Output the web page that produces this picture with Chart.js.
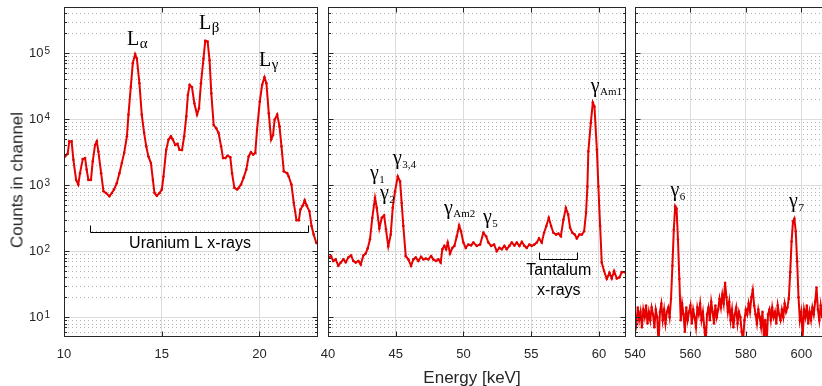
<!DOCTYPE html>
<html><head><meta charset="utf-8">
<script src="https://cdn.jsdelivr.net/npm/chart.js@4/dist/chart.umd.min.js"></script>
<style>
html,body{margin:0;padding:0;overflow:hidden;background:#fff;width:822px;height:386px;}
#wrap{position:relative;width:822px;height:386px;overflow:hidden;}
canvas{position:absolute;top:0;}
.lab{position:absolute;font-family:"Liberation Sans",Arial,Helvetica,sans-serif;font-size:17px;line-height:17px;height:17px;color:#262626;white-space:nowrap;}
#xt{left:472px;top:369px;transform:translateX(-50%);}
#yt{left:16.8px;top:180px;transform:translate(-50%,-50%) rotate(-90deg);}
</style></head>
<body><div id="wrap">
<canvas id="c1" width="322" height="386" style="left:0px"></canvas>
<canvas id="c2" width="312" height="386" style="left:318px"></canvas>
<canvas id="c3" width="208" height="386" style="left:625px"></canvas>
<div class="lab" id="xt">Energy [keV]</div>
<div class="lab" id="yt">Counts in channel</div>
</div>
<script>
// ---------- data ----------
const energies1 = [10.05,10.19,10.27,10.39,10.48,10.62,10.73,10.82,10.96,11.08,11.16,11.25,11.38,11.47,11.59,11.68,11.76,11.90,12.02,12.15,12.32,12.45,12.56,12.70,12.84,12.96,13.08,13.22,13.30,13.42,13.52,13.64,13.73,13.86,13.98,14.10,14.21,14.32,14.45,14.55,14.63,14.75,14.89,15.01,15.09,15.23,15.35,15.47,15.57,15.69,15.81,15.91,16.04,16.15,16.26,16.34,16.43,16.55,16.67,16.81,16.91,17.01,17.14,17.23,17.35,17.45,17.54,17.66,17.79,17.91,18.04,18.14,18.26,18.37,18.51,18.60,18.72,18.86,18.94,19.06,19.19,19.33,19.45,19.57,19.68,19.79,19.88,20.02,20.14,20.26,20.36,20.48,20.60,20.70,20.78,20.91,21.03,21.13,21.25,21.42,21.50,21.64,21.76,21.90,22.02,22.10,22.22,22.32,22.42,22.56,22.67,22.78,22.91,23.01];
const counts1 = [2720,2990,4600,4600,2430,1200,1020,1520,2480,2570,1720,1200,1200,2290,4060,4600,3230,1520,807,760,680,760,860,1070,1520,2160,3080,5500,11700,31000,70000,96600,83000,35000,11700,6200,3860,2720,2160,1200,760,690,760,860,1350,3430,4900,5500,4900,4060,4230,3430,3400,5500,11000,23200,33000,30500,17400,11700,14600,35000,83000,154000,150000,78000,24600,8150,7250,6200,3860,2570,2570,2790,2650,1520,910,860,910,1020,1290,1720,2720,3150,2900,3080,6900,18400,33000,43000,35000,12300,4900,5750,9800,11700,7760,3860,1620,1520,1350,1020,540,293,293,427,490,590,490,403,240,178,134,126];

const energies2 = [40.02,40.22,40.39,40.57,40.76,40.94,41.13,41.31,41.50,41.70,41.87,42.05,42.24,42.42,42.61,42.78,42.93,43.10,43.27,43.47,43.60,43.79,43.97,44.14,44.28,44.45,44.63,44.78,44.95,45.15,45.32,45.44,45.56,45.74,45.93,46.13,46.30,46.48,46.67,46.87,47.04,47.22,47.41,47.61,47.78,47.98,48.15,48.32,48.44,48.59,48.72,48.84,49.01,49.18,49.33,49.51,49.68,49.82,49.99,50.17,50.36,50.56,50.73,50.98,51.23,51.47,51.67,51.84,52.04,52.26,52.46,52.65,52.83,53.02,53.20,53.39,53.57,53.76,53.94,54.13,54.31,54.50,54.67,54.87,55.04,55.24,55.41,55.58,55.78,55.95,56.12,56.30,56.47,56.64,56.84,57.01,57.19,57.38,57.56,57.73,57.87,58.04,58.22,58.37,58.56,58.74,58.91,59.05,59.15,59.22,59.40,59.55,59.67,59.85,59.96,60.09,60.21,60.38,60.58,60.78,60.95,61.12,61.32,61.51,61.69,61.93];
const counts2 = [80,84,71,75,60,67,75,68,80,86,71,67,71,63,86,92,110,151,320,645,455,220,320,347,214,118,178,455,810,1350,1140,537,240,84,75,60,75,80,71,82,75,77,75,84,75,71,75,67,107,120,107,135,92,112,120,168,245,200,135,112,126,122,135,120,126,190,168,135,120,126,100,112,107,120,107,120,135,122,135,120,138,120,112,126,120,126,135,156,135,190,240,320,240,190,178,184,168,300,452,360,226,190,178,156,178,178,200,380,955,3230,8700,17800,15500,3430,955,240,67,50,38,47,38.5,50,38.5,40,48,48];

const energies3 = [540.0,540.5,541.0,541.5,542.0,542.5,543.0,543.5,544.0,544.5,545.0,545.5,546.0,546.5,547.0,547.5,548.0,548.5,549.0,549.5,550.0,550.5,551.0,551.5,552.0,552.5,553.0,553.5,554.0,554.5,555.0,555.5,556.0,556.5,557.0,557.5,558.0,558.5,559.0,559.5,560.0,560.5,561.0,561.5,562.0,562.5,563.0,563.5,564.0,564.5,565.0,565.5,566.0,566.5,567.0,567.5,568.0,568.5,569.0,569.5,570.0,570.5,571.0,571.5,572.0,572.5,573.0,573.5,574.0,574.5,575.0,575.5,576.0,576.5,577.0,577.5,578.0,578.5,579.0,579.5,580.0,580.5,581.0,581.5,582.0,582.5,583.0,583.5,584.0,584.5,585.0,585.5,586.0,586.5,587.0,587.5,588.0,588.5,589.0,589.5,590.0,590.5,591.0,591.5,592.0,592.5,593.0,593.5,594.0,594.5,595.0,595.5,596.0,596.5,597.0,597.5,598.0,598.5,599.0,599.5,600.0,600.5,601.0,601.5,602.0,602.5,603.0,603.5,604.0,604.5,605.0,605.5,606.0,606.5,607.0,607.5];
const counts3 = [11,8,14,9,12,7,13,10,15,8,12,9,14,11,7,13,10,4,12,16,9,13,8,12,14,10,19,60,210,480,440,150,38,9,16,11,6,14,9,12,15,8,13,10,7,14,11,16,9,12,7,4,11,14,9,17,12,8,15,10,13,19,14,22,16,33,20,12,17,9,13,7,11,14,8,12,10,6,4.5,9,13,11,16,12,20,26,15,11,8,13,10,7,12,5,9,4,11,13,9,14,10,12,8,15,11,9,13,10,16,12,14,19,48,140,280,310,200,70,20,9,12,5,13,10,15,8,12,9,14,11,17,28,13,9,15,10];

const xTicks1 = [10, 15, 20];
const xTicks2 = [40, 45, 50, 55, 60];
const xTicks3 = [540, 560, 580, 600];
const yTickValues = [10, 100, 1000, 10000, 100000];
const yTickBase = ['10', '10', '10', '10', '10'];
const yTickExps = ['1', '2', '3', '4', '5'];

// ---------- annotations (data coordinates) ----------
const ANNOTS = {
  c1: [
    {type:'label', x:13.22, y:1.33e5, main:'L', sub:'\u03B1', subSize:15, subDy:3},
    {type:'label', x:16.91, y:2.32e5, main:'L', sub:'\u03B2', subSize:15, subDy:3},
    {type:'label', x:19.98, y:6.46e4, main:'L', sub:'\u03B3', subSize:15, subDy:3},
    {type:'bracket', x1:11.33, x2:22.51, y:195},
    {type:'text', x:16.45, y:110, text:'Uranium L x-rays'}
  ],
  c2: [
    {type:'label', x:43.10, y:1225, main:'\u03B3', sub:'1', subSize:11, subDy:4},
    {type:'label', x:43.84, y:617, main:'\u03B3', sub:'2', subSize:11, subDy:4},
    {type:'label', x:44.80, y:2090, main:'\u03B3', sub:'3,4', subSize:11, subDy:4},
    {type:'label', x:48.56, y:366, main:'\u03B3', sub:'Am2', subSize:11, subDy:3.5},
    {type:'label', x:51.44, y:270, main:'\u03B3', sub:'5', subSize:11, subDy:4},
    {type:'label', x:59.39, y:26060, main:'\u03B3', sub:'Am1', subSize:11, subDy:3.5},
    {type:'bracket', x1:55.60, x2:58.41, y:76.7},
    {type:'text', x:57.04, y:43.5, text:'Tantalum'},
    {type:'text', x:57.04, y:21.6, text:'x-rays'}
  ],
  c3: [
    {type:'label', x:552.8, y:684, main:'\u03B3', sub:'6', subSize:11, subDy:4},
    {type:'label', x:595.6, y:461, main:'\u03B3', sub:'7', subSize:11, subDy:4}
  ]
};

const RED = '#e60000';
const AX = '#262626';
const GRID = '#dcdcdc';
const SANS = '"Liberation Sans", Arial, Helvetica, sans-serif';
const SERIF = '"Liberation Serif", "Times New Roman", serif';

const framePlugin = {
  id: 'frame',
  beforeDatasetsDraw(chart) {
    const {ctx, chartArea: a, scales: {y}} = chart;
    ctx.save();
    ctx.strokeStyle = 'rgba(0,0,0,0.30)';
    ctx.lineWidth = 1;
    ctx.setLineDash([1, 3]);
    ctx.beginPath();
    for (let d = 1; d <= 100000; d *= 10) {
      for (let k = 2; k <= 9; k++) {
        const v = k * d;
        if (v <= y.min || v >= y.max) continue;
        const py = Math.round(y.getPixelForValue(v)) + 0.5;
        ctx.moveTo(a.left, py); ctx.lineTo(a.right, py);
      }
    }
    ctx.stroke();
    ctx.restore();
  },
  afterDraw(chart) {
    const {ctx, chartArea: a, scales: {x, y}} = chart;
    ctx.save();
    ctx.strokeStyle = AX; ctx.lineWidth = 1; ctx.setLineDash([]);
    const L = Math.round(a.left) + 0.5, R = Math.round(a.right) - 0.5;
    const T = Math.round(a.top) + 0.5, B = Math.round(a.bottom) - 0.5;
    ctx.strokeRect(L, T, R - L, B - T);
    ctx.beginPath();
    x.ticks.forEach(t => {
      const px = Math.round(x.getPixelForValue(t.value)) + 0.5;
      ctx.moveTo(px, B); ctx.lineTo(px, B - 5);
      ctx.moveTo(px, T); ctx.lineTo(px, T + 5);
    });
    for (let d = 1; d <= 100000; d *= 10) {
      for (let k = 1; k <= 9; k++) {
        const v = k * d;
        if (v <= y.min || v >= y.max) continue;
        const len = k === 1 ? 5 : 2.5;
        const py = Math.round(y.getPixelForValue(v)) + 0.5;
        ctx.moveTo(L, py); ctx.lineTo(L + len, py);
        ctx.moveTo(R, py); ctx.lineTo(R - len, py);
      }
    }
    ctx.stroke();
    // exponents of the y tick labels (superscripts next to the "10" labels)
    if (y.options.ticks.display) {
      ctx.fillStyle = AX; ctx.textAlign = 'left'; ctx.textBaseline = 'alphabetic';
      ctx.font = '10px ' + SANS;
      yTickValues.forEach((v, i) => {
        const py = y.getPixelForValue(v);
        ctx.fillText(yTickExps[i], a.left - 19.5, py + 0.5);
      });
    }
    ctx.restore();
  }
};

const annotPlugin = {
  id: 'annotDraw',
  afterDatasetsDraw(chart) {
    const items = ANNOTS[chart.canvas.id] || [];
    const {ctx, scales: {x, y}} = chart;
    ctx.save();
    for (const it of items) {
      if (it.type === 'label') {
        const px = x.getPixelForValue(it.x), py = y.getPixelForValue(it.y);
        ctx.fillStyle = '#000'; ctx.textAlign = 'left'; ctx.textBaseline = 'alphabetic';
        ctx.font = '20px ' + SERIF;
        ctx.fillText(it.main, px, py);
        const w = ctx.measureText(it.main).width;
        ctx.font = it.subSize + 'px ' + SERIF;
        ctx.fillText(it.sub, px + w + 0.5, py + it.subDy);
      } else if (it.type === 'bracket') {
        const x1 = Math.round(x.getPixelForValue(it.x1)) + 0.5;
        const x2 = Math.round(x.getPixelForValue(it.x2)) + 0.5;
        const yy = Math.round(y.getPixelForValue(it.y)) + 0.5;
        ctx.strokeStyle = '#000'; ctx.lineWidth = 1;
        ctx.beginPath();
        ctx.moveTo(x1, yy - 7); ctx.lineTo(x1, yy); ctx.lineTo(x2, yy); ctx.lineTo(x2, yy - 7);
        ctx.stroke();
      } else if (it.type === 'text') {
        const px = x.getPixelForValue(it.x), py = y.getPixelForValue(it.y);
        ctx.fillStyle = '#000'; ctx.textAlign = 'center'; ctx.textBaseline = 'alphabetic';
        ctx.font = '16px ' + SANS;
        ctx.fillText(it.text, px, py);
      }
    }
    ctx.restore();
  }
};

function buildChart(id, cfg) {
  return new Chart(document.getElementById(id), {
    type: 'line',
    data: {
      datasets: [{
        data: cfg.E.map((e, i) => ({x: e, y: cfg.C[i]})),
        borderColor: RED, backgroundColor: RED, borderWidth: 2,
        pointRadius: 1.3, pointHoverRadius: 0, pointBorderWidth: 0,
        pointBackgroundColor: RED, tension: 0, clip: 0
      }]
    },
    options: {
      responsive: false, animation: false, devicePixelRatio: 1, events: [],
      layout: {padding: {left: 0, right: 4, top: 7, bottom: 0}},
      plugins: {legend: {display: false}, tooltip: {enabled: false}},
      scales: {
        x: {
          type: 'linear', min: cfg.xmin, max: cfg.xmax,
          afterBuildTicks: s => { s.ticks = cfg.xTicks.map(v => ({value: v})); },
          afterFit: s => { s.height = 49; s.paddingLeft = 0; s.paddingRight = 0; },
          grid: {color: GRID, drawTicks: false, lineWidth: 1},
          border: {display: false},
          ticks: {color: AX, font: {family: SANS, size: 13}, padding: 10, maxRotation: 0, autoSkip: false,
                  callback: v => String(v)}
        },
        y: {
          type: 'logarithmic', min: 5, max: 5e5,
          afterBuildTicks: s => { s.ticks = yTickValues.map(v => ({value: v})); },
          afterFit: s => { s.width = cfg.yw; s.paddingTop = 0; s.paddingBottom = 0; },
          grid: {color: GRID, drawTicks: false, lineWidth: 1},
          border: {display: false},
          ticks: {display: cfg.showY, color: AX, font: {family: SANS, size: 13}, padding: 20.5, autoSkip: false,
                  callback: v => { const i = yTickValues.indexOf(v); return i >= 0 ? yTickBase[i] : ''; }}
        }
      }
    },
    plugins: [framePlugin, annotPlugin]
  });
}

buildChart('c1', {E: energies1, C: counts1, xmin: 10, xmax: 23, xTicks: xTicks1, yw: 64, showY: true});
buildChart('c2', {E: energies2, C: counts2, xmin: 40, xmax: 62, xTicks: xTicks2, yw: 10, showY: false});
buildChart('c3', {E: energies3, C: counts3, xmin: 540, xmax: 610, xTicks: xTicks3, yw: 10, showY: false});
</script>
</body></html>
